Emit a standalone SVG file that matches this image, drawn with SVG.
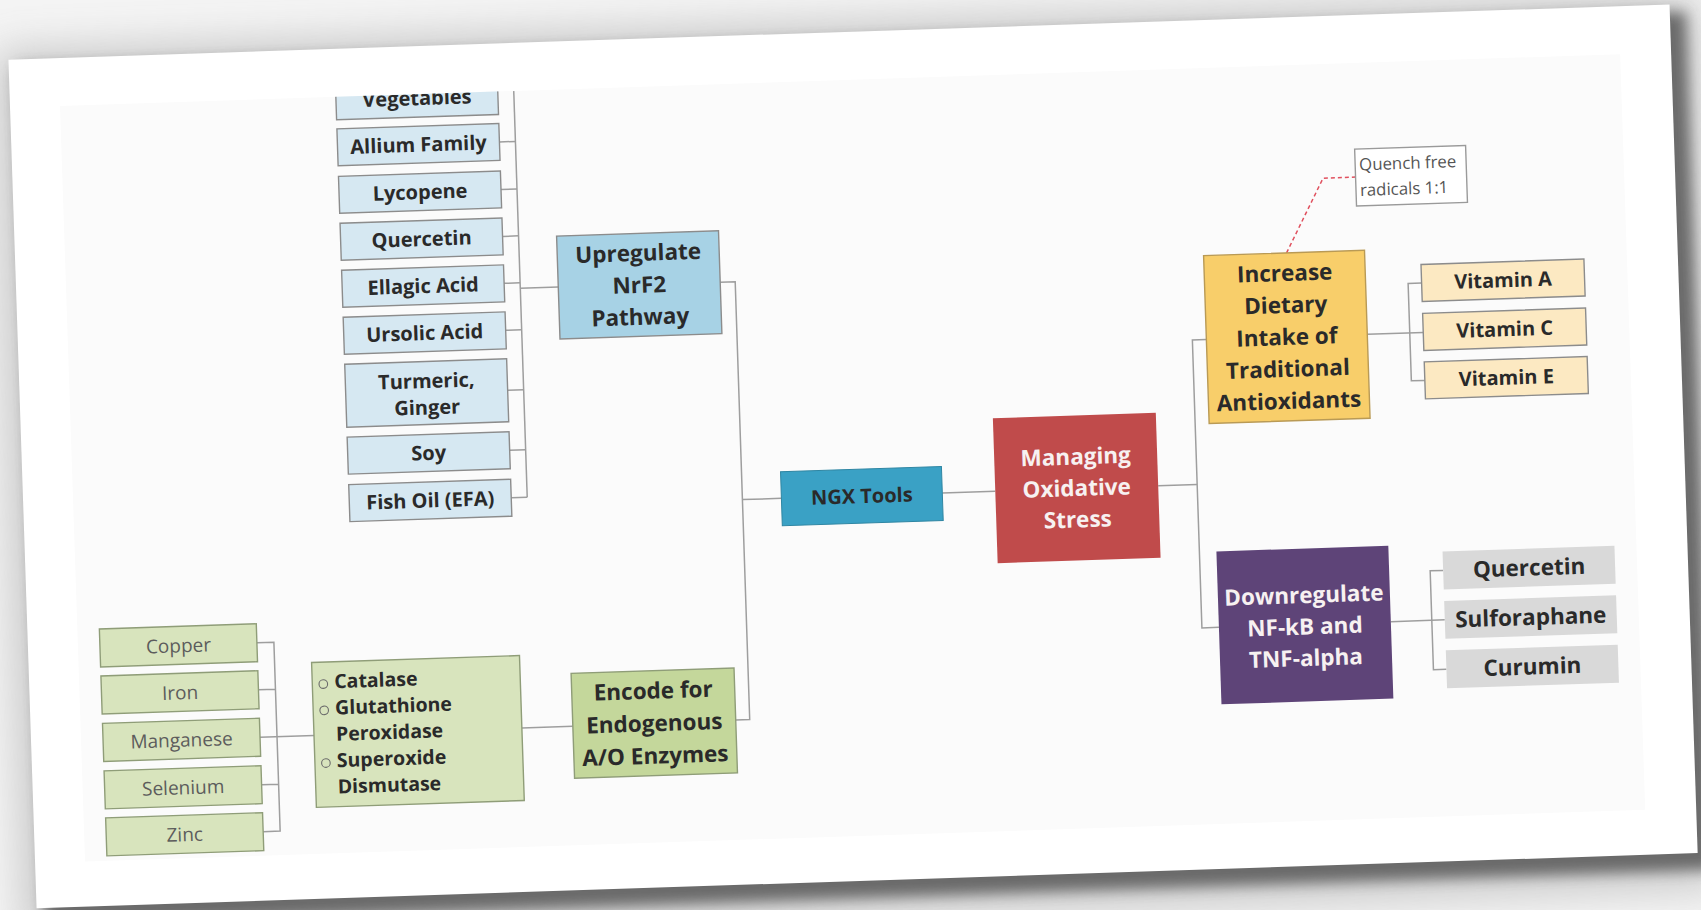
<svg xmlns="http://www.w3.org/2000/svg" width="1701" height="910" viewBox="0 0 1701 910">
  <defs>
    <style>
      .bx { stroke: #8c8c8c; stroke-width: 1.4; }
      .lb { fill: #d6e8f2; }
      .up { fill: #a7d2e5; }
      .ngx { fill: #3aa1c5; stroke: #2f86a3; stroke-width: 1; }
      .red { fill: #c04b4b; }
      .yel { fill: #f8ce6a; stroke: #b99a55; stroke-width: 1.4; }
      .cream { fill: #fce9c2; }
      .pur { fill: #5e4478; }
      .gry { fill: #d9d9d9; }
      .lg { fill: #d8e4bd; stroke: #8f9d78; stroke-width: 1.4; }
      .dg { fill: #c4d79b; stroke: #8f9d78; stroke-width: 1.4; }
      .note { fill: #ffffff; stroke: #9a9a9a; stroke-width: 1.4; }
      .t { font-family: "Open Sans", "Liberation Sans", sans-serif; font-weight: 700; fill: #2a2a2a; text-anchor: middle; }
      .s20 { font-size: 20px; }
      .s22 { font-size: 22.5px; }
      .s19 { font-size: 19.5px; }
      .w { fill: #f7f1f1; }
      .st { text-anchor: start; }
      .lt { font-family: "Open Sans", "Liberation Sans", sans-serif; font-weight: 400; font-size: 19px; fill: #5c5c5c; text-anchor: middle; }
      .nt { font-family: "Open Sans", "Liberation Sans", sans-serif; font-weight: 400; font-size: 16.8px; fill: #555555; }
      .ln { fill: none; stroke: #9e9e9e; stroke-width: 1.5; }
      .dash { fill: none; stroke: #e0505e; stroke-width: 1.5; stroke-dasharray: 4 3; }
      .bul { fill: none; stroke: #6a6a6a; stroke-width: 1.1; }
    </style>
    <filter id="blurS" x="-5%" y="-5%" width="110%" height="112%">
      <feGaussianBlur stdDeviation="7"/>
    </filter>
    <filter id="blurL" x="-8%" y="-10%" width="116%" height="120%">
      <feGaussianBlur stdDeviation="22"/>
    </filter>
    <clipPath id="area">
      <rect x="72" y="80" width="1561" height="756"/>
    </clipPath>
  </defs>

  <!-- backdrop -->
  <rect x="0" y="0" width="1701" height="910" fill="#f4f4f4"/>

  <g transform="rotate(-1.9 850 455)">
    <!-- sheet with its drop shadow -->
    <rect x="10" y="24" width="1700" height="890" fill="#808080" opacity="0.4" filter="url(#blurL)"/>
    <rect x="30" y="40" width="1670" height="858" fill="#5a5a5a" opacity="0.85" filter="url(#blurS)"/>
    <rect x="22" y="32" width="1662" height="849" fill="#ffffff"/>
    <rect x="72" y="80" width="1561" height="756" fill="#fbfbfb"/>

    <g clip-path="url(#area)">
      <g id="connectors">
        <path class="ln" d="M526,60 V486.5"/>
        <path class="ln" d="M510,130.5 H526 M510,178 H526 M510,225 H526 M510,272 H526 M510,319 H526 M510,379 H526 M510,439 H526 M510,486.5 H526"/>
        <path class="ln" d="M526,277.5 H564"/>
        <path class="ln" d="M726,278 H741 V716 H727"/>
        <path class="ln" d="M741,496 H780"/>
        <path class="ln" d="M941,496 H994"/>
        <path class="ln" d="M1157,496 H1196"/>
        <path class="ln" d="M1210,351.5 H1196 V639.5 H1213"/>
        <path class="ln" d="M1371,351.5 H1427"/>
        <path class="ln" d="M1427,302 H1413.5 V399.5 H1427"/>
        <path class="ln" d="M1385,639.5 H1439"/>
        <path class="ln" d="M1439,590 H1426 V689 H1439"/>
        <path class="ln" d="M251,623 H268 V812 H251 M251,670 H268 M251,765 H268"/>
        <path class="ln" d="M251,717.5 H305"/>
        <path class="ln" d="M513,717 H564"/>
        <path class="dash" d="M1293,267.5 L1332,194 H1364.5"/>
      </g>

      <!-- foods that switch on NrF2 -->
      <g id="vegetables">
        <rect class="bx lb" x="348" y="40" width="162" height="63"/>
        <text class="t s20" x="429" y="91">Vegetables</text>
      </g>
      <g id="allium">
        <rect class="bx lb" x="348" y="112" width="162" height="37"/>
        <text class="t s20" x="429" y="137.5">Allium Family</text>
      </g>
      <g id="lycopene">
        <rect class="bx lb" x="348" y="159.5" width="162" height="37"/>
        <text class="t s20" x="429" y="185">Lycopene</text>
      </g>
      <g id="quercetin-nrf2">
        <rect class="bx lb" x="348" y="206.5" width="162" height="37"/>
        <text class="t s20" x="429" y="232">Quercetin</text>
      </g>
      <g id="ellagic">
        <rect class="bx lb" x="348" y="253.5" width="162" height="37"/>
        <text class="t s20" x="429" y="279">Ellagic Acid</text>
      </g>
      <g id="ursolic">
        <rect class="bx lb" x="348" y="300.5" width="162" height="37"/>
        <text class="t s20" x="429" y="326">Ursolic Acid</text>
      </g>
      <g id="turmeric">
        <rect class="bx lb" x="348" y="347.5" width="162" height="63"/>
        <text class="t s20" x="429" y="374">Turmeric,</text>
        <text class="t s20" x="429" y="400.5">Ginger</text>
      </g>
      <g id="soy">
        <rect class="bx lb" x="348" y="420.5" width="162" height="37"/>
        <text class="t s20" x="429" y="446">Soy</text>
      </g>
      <g id="fish-oil">
        <rect class="bx lb" x="348" y="468" width="162" height="37"/>
        <text class="t s20" x="429" y="493.5">Fish Oil (EFA)</text>
      </g>

      <g id="upregulate">
        <rect class="bx up" x="564" y="226.5" width="162" height="103"/>
        <text class="t s22" x="645" y="254">Upregulate</text>
        <text class="t s22" x="645" y="286">NrF2</text>
        <text class="t s22" x="645" y="318">Pathway</text>
      </g>

      <g id="ngx-tools">
        <rect class="ngx" x="780" y="469.5" width="161" height="54"/>
        <text class="t s20" x="860.5" y="503.5">NGX Tools</text>
      </g>

      <g id="managing">
        <rect class="red" x="994" y="423" width="163" height="145"/>
        <text class="t s22 w" x="1075.5" y="472">Managing</text>
        <text class="t s22 w" x="1075.5" y="503.5">Oxidative</text>
        <text class="t s22 w" x="1075.5" y="535">Stress</text>
      </g>

      <g id="increase">
        <rect class="yel" x="1210" y="267.5" width="161" height="168"/>
        <text class="t s22" x="1290.5" y="295.5">Increase</text>
        <text class="t s22" x="1290.5" y="327.5">Dietary</text>
        <text class="t s22" x="1290.5" y="359.5">Intake of</text>
        <text class="t s22" x="1290.5" y="391.5">Traditional</text>
        <text class="t s22" x="1290.5" y="423.5">Antioxidants</text>
      </g>

      <g id="quench-note">
        <rect class="note" x="1364.5" y="166" width="111" height="57"/>
        <text class="nt" x="1368.5" y="187.5">Quench free</text>
        <text class="nt" x="1368.5" y="213">radicals 1:1</text>
      </g>

      <g id="vitamin-a">
        <rect class="bx cream" x="1427" y="283.5" width="163" height="37"/>
        <text class="t s20" x="1508.5" y="309">Vitamin A</text>
      </g>
      <g id="vitamin-c">
        <rect class="bx cream" x="1427" y="332.5" width="163" height="37"/>
        <text class="t s20" x="1508.5" y="358">Vitamin C</text>
      </g>
      <g id="vitamin-e">
        <rect class="bx cream" x="1427" y="381" width="163" height="37"/>
        <text class="t s20" x="1508.5" y="406.5">Vitamin E</text>
      </g>

      <g id="downregulate">
        <rect class="pur" x="1213" y="563.5" width="172" height="153"/>
        <text class="t s22 w" x="1299" y="618">Downregulate</text>
        <text class="t s22 w" x="1299" y="649.5">NF-kB and</text>
        <text class="t s22 w" x="1299" y="681">TNF-alpha</text>
      </g>

      <g id="quercetin-nfkb">
        <rect class="gry" x="1439" y="571" width="172" height="38"/>
        <text class="t s22" x="1525" y="598">Quercetin</text>
      </g>
      <g id="sulforaphane">
        <rect class="gry" x="1439" y="620.5" width="172" height="38"/>
        <text class="t s22" x="1525" y="647.5">Sulforaphane</text>
      </g>
      <g id="curumin">
        <rect class="gry" x="1439" y="670" width="172" height="38"/>
        <text class="t s22" x="1525" y="697">Curumin</text>
      </g>

      <!-- mineral cofactors -->
      <g id="copper">
        <rect class="lg" x="94" y="604" width="157" height="38"/>
        <text class="lt" x="172.5" y="630">Copper</text>
      </g>
      <g id="iron">
        <rect class="lg" x="94" y="651" width="157" height="38"/>
        <text class="lt" x="172.5" y="677">Iron</text>
      </g>
      <g id="manganese">
        <rect class="lg" x="94" y="698.5" width="157" height="38"/>
        <text class="lt" x="172.5" y="724.5">Manganese</text>
      </g>
      <g id="selenium">
        <rect class="lg" x="94" y="746" width="157" height="38"/>
        <text class="lt" x="172.5" y="772">Selenium</text>
      </g>
      <g id="zinc">
        <rect class="lg" x="94" y="793" width="157" height="38"/>
        <text class="lt" x="172.5" y="819">Zinc</text>
      </g>

      <g id="enzymes">
        <rect class="lg" x="305" y="644.5" width="208" height="145"/>
        <circle class="bul" cx="316" cy="666.5" r="4.3"/>
        <circle class="bul" cx="316" cy="692.8" r="4.3"/>
        <circle class="bul" cx="316" cy="745.5" r="4.3"/>
        <text class="t s19 st" x="327" y="671">Catalase</text>
        <text class="t s19 st" x="327" y="697.3">Glutathione</text>
        <text class="t s19 st" x="327" y="723.6">Peroxidase</text>
        <text class="t s19 st" x="327" y="750">Superoxide</text>
        <text class="t s19 st" x="327" y="776.3">Dismutase</text>
      </g>

      <g id="encode">
        <rect class="dg" x="564" y="664" width="163" height="105"/>
        <text class="t s22" x="645.5" y="692">Encode for</text>
        <text class="t s22" x="645.5" y="724.5">Endogenous</text>
        <text class="t s22" x="645.5" y="757">A/O Enzymes</text>
      </g>
    </g>
  </g>
</svg>
